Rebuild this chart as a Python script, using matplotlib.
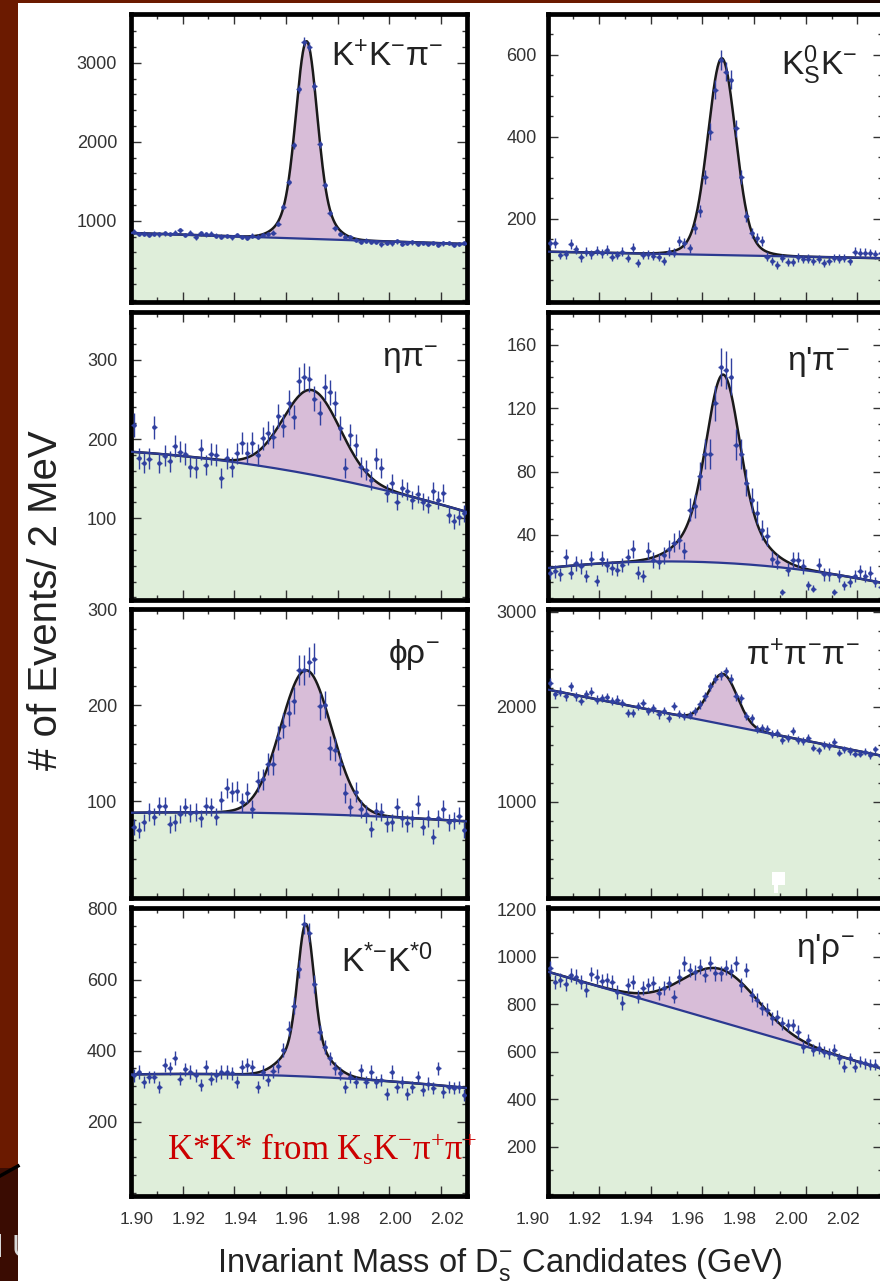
import numpy as np
import matplotlib
matplotlib.use("Agg")
import matplotlib.pyplot as plt
from matplotlib.patches import Rectangle
from matplotlib.lines import Line2D
from matplotlib.ticker import FixedLocator, MultipleLocator
from matplotlib.transforms import ScaledTranslation, Bbox

plt.rcParams["font.family"] = ["Liberation Sans", "DejaVu Sans"]
plt.rcParams["mathtext.default"] = "regular"

# 2 MeV bins, centres 1.901 ... 2.029 GeV
mass = np.round(1.901 + 0.002 * np.arange(65), 3)

counts_kkpi = [860, 830, 838, 820, 835, 826, 840, 832, 848, 880, 818, 850, 790, 840, 826, 835, 810, 798,
               806, 790, 822, 796, 784, 812, 798, 818, 830, 850, 960, 1177, 1494, 1958, 2663, 3266, 3203,
               2705, 1971, 1452, 1094, 904, 830, 800, 790, 760, 735, 748, 728, 735, 700, 722, 712, 738,
               705, 718, 726, 708, 720, 702, 715, 690, 712, 720, 696, 706, 718]
counts_ksk = [140, 142, 112, 114, 138, 126, 106, 120, 114, 122, 116, 124, 108, 112, 120, 104, 130, 92,
              112, 114, 110, 108, 98, 120, 118, 145, 141, 128, 177, 219, 303, 413, 515, 588, 559, 539,
              421, 303, 206, 165, 153, 145, 108, 98, 88, 104, 96, 95, 106, 102, 103, 98, 102, 92, 98,
              104, 103, 104, 98, 120, 118, 118, 116, 114, 118]
counts_etapi = [218, 176, 170, 175, 215, 170, 179, 172, 191, 184, 181, 165, 163, 187, 167, 181, 180, 151,
                176, 165, 182, 195, 183, 195, 180, 201, 208, 203, 229, 217, 246, 228, 274, 279, 276, 251,
                233, 266, 259, 245, 214, 163, 205, 193, 165, 161, 148, 175, 163, 132, 144, 121, 138, 134,
                123, 131, 121, 117, 134, 123, 132, 104, 96, 102, 106]
counts_etappi = [16, 17, 15, 26, 16, 22, 20, 14, 25, 11, 25, 21, 19, 18, 21, 26, 31, 16, 14, 30, 24, 23,
                 27, 31, 35, 37, 30, 56, 58, 77, 91, 91, 123, 146, 144, 140, 97, 91, 73, 62, 54, 43, 39,
                 25, 23, 4, 18, 24, 24, 20, 8, 6, 21, 15, 15, 4, 14, 8, 10, 14, 17, 14, 16, 10, 7]
counts_phirho = [73, 70, 78, 89, 84, 95, 95, 76, 78, 87, 94, 88, 89, 82, 95, 94, 84, 101, 114, 110, 111,
                 99, 109, 92, 121, 123, 139, 139, 166, 179, 192, 205, 237, 237, 245, 249, 199, 201, 156,
                 154, 139, 109, 94, 110, 92, 87, 71, 90, 89, 77, 78, 94, 82, 77, 82, 97, 73, 82, 63, 82,
                 92, 78, 80, 85, 70]
counts_3pi = [2250, 2128, 2156, 2110, 2215, 2110, 2058, 2128, 2156, 2075, 2092, 2100, 2058, 2075, 2040,
              1935, 1935, 2005, 2040, 1953, 1981, 1918, 1953, 1883, 2005, 1925, 1900, 1911, 1953, 2023,
              2110, 2215, 2296, 2331, 2373, 2296, 2110, 2086, 1900, 1876, 1760, 1771, 1760, 1715, 1725,
              1645, 1673, 1743, 1645, 1638, 1673, 1568, 1540, 1596, 1586, 1631, 1515, 1551, 1533, 1505,
              1505, 1526, 1491, 1551, 1480]
counts_kstkst = [331, 340, 312, 326, 326, 298, 359, 350, 379, 321, 348, 340, 331, 303, 354, 321, 331, 340,
                 340, 336, 312, 354, 359, 354, 298, 340, 317, 342, 357, 401, 462, 527, 631, 757, 733, 588,
                 452, 410, 378, 350, 336, 298, 326, 312, 345, 312, 340, 312, 317, 279, 340, 298, 312, 277,
                 298, 326, 289, 307, 295, 350, 284, 298, 295, 298, 275]
counts_etaprho = [951, 892, 902, 884, 923, 916, 892, 860, 926, 916, 898, 902, 892, 853, 804, 881, 892, 832,
                  867, 881, 888, 846, 867, 888, 832, 916, 972, 944, 934, 958, 923, 972, 930, 930, 954, 940,
                  972, 881, 944, 839, 818, 783, 776, 741, 747, 720, 712, 712, 684, 621, 649, 607, 614, 600,
                  593, 607, 572, 537, 572, 537, 558, 551, 544, 544, 533]

all_counts = [counts_kkpi, counts_ksk, counts_etapi, counts_etappi,
              counts_phirho, counts_3pi, counts_kstkst, counts_etaprho]

channel_labels = ["K$^{+}$K$^{{-}}$π$^{{-}}$", "K$^{0}_{S}$K$^{{-}}$", "ηπ$^{{-}}$", "η'π$^{{-}}$",
                  "ϕρ$^{{-}}$", "π$^{+}$π$^{{-}}$π$^{{-}}$", "K$^{*{-}}$K$^{*0}$", "η'ρ$^{{-}}$"]

y_major = [[1000, 2000, 3000], [200, 400, 600], [100, 200, 300], [40, 80, 120, 160],
           [100, 200, 300], [1000, 2000, 3000], [200, 400, 600, 800], [200, 400, 600, 800, 1000, 1200]]
y_minor = [200, 50, 20, 10, 20, 200, 50, 100]
y_limits = [(-25, 3613), (-2, 699), (-3, 361), (-1, 181), (-0.5, 300.5), (-10, 3026), (-9, 803.5), (-7, 1207)]

x_ticks = [1.90, 1.92, 1.94, 1.96, 1.98, 2.00, 2.02]

# fit results
fit_mean = [1.9680, 1.9675, 1.9700, 1.9680, 1.9678, 1.9680, 1.9677, 1.9670]
core_sigma = [0.0039, 0.0052, 0.0110, 0.0060, 0.0098, 0.0055, 0.0030, 0.0145]
core_amp = [2000, 440, 107, 85, 150, 530, 330, 222]
tail_sigma = [0.0075, 0.0100, 0.0100, 0.0120, 0.0100, 0.0100, 0.0080, 0.0100]
tail_amp = [500, 40, 0, 34, 0, 0, 100, 0]
# background level at 1.900, 1.965 and 2.030 GeV
bkg_levels = [(845, 775, 705), (120, 112, 104), (184, 158, 108), (19, 22.5, 9.5),
              (88, 87, 79), (2180, 1830, 1480), (333, 328, 295), (937, 732, 527)]

W, H = 880, 1281
col_left = [131, 547.5]
col_width = 335.7
row_top = [14.3, 311.7, 609.2, 907.5]
row_bottom = [301.7, 599.7, 897.5, 1195.8]
label_pos = [(0.929, 0.820), (0.922, 0.789), (0.915, 0.809), (0.901, 0.798),
             (0.920, 0.813), (0.931, 0.806), (0.900, 0.777), (0.916, 0.829)]

GREEN = "#dfeeda"
PURPLE = "#d8bdd8"
NAVY = "#2b3990"
DATA = "#3040a0"


def fit_curves(x, i):
    bk = np.polyval(np.polyfit([1.90, 1.965, 2.03], bkg_levels[i], 2), x)
    sig = core_amp[i] * np.exp(-0.5 * ((x - fit_mean[i]) / core_sigma[i]) ** 2)
    sig = sig + tail_amp[i] * np.exp(-0.5 * ((x - fit_mean[i]) / tail_sigma[i]) ** 2)
    return bk, bk + sig


def px_rect(fig, x0, y0, x1, y1, color, z):
    fig.add_artist(Rectangle((x0 / W, 1 - y1 / H), (x1 - x0) / W, (y1 - y0) / H,
                             transform=fig.transFigure, facecolor=color, edgecolor="none", zorder=z))


fig = plt.figure(figsize=(W / 100, H / 100), dpi=100)
fig.patch.set_facecolor("white")

# slide background peeking out on the left and top
px_rect(fig, 0, 0, 18, 1168, "#6b1a00", -5)
px_rect(fig, 0, 1168, 18, H, "#3a0c02", -5)
px_rect(fig, 0, 0, 760, 3, "#6b1a00", -5)
px_rect(fig, 760, 0, W, 3, "#1a0500", -5)
fig.add_artist(Line2D([0, 18 / W], [1 - 1176 / H, 1 - 1166 / H], transform=fig.transFigure,
                      color="black", lw=2.5, zorder=-4))
t = fig.text(-4 / W, 1 - 1257 / H, "l U", color="#d8d8d8", fontsize=23, zorder=-4)
t.set_clip_box(Bbox([[0, 0], [18, H]]))

xf = np.linspace(1.90, 2.03, 800)

for i, counts in enumerate(all_counts):
    row, col = divmod(i, 2)
    left = col_left[col] / W
    bottom = 1 - row_bottom[row] / H
    height = (row_bottom[row] - row_top[row]) / H
    ax = fig.add_axes([left, bottom, col_width / W, height])

    y0, y1 = y_limits[i]
    bk, tot = fit_curves(xf, i)
    ax.fill_between(xf, y0, bk, color=GREEN, lw=0, zorder=1)
    ax.fill_between(xf, bk, tot, color=PURPLE, lw=0, zorder=1)
    ax.plot(xf, tot, color="#1a1a1a", lw=1.8, zorder=2)
    ax.plot(xf, bk, color=NAVY, lw=1.6, zorder=3)

    c = np.array(counts, dtype=float)
    ax.errorbar(mass, c, yerr=np.sqrt(c), xerr=0.001, fmt="o", ms=2.2, color=DATA,
                elinewidth=1.0, capsize=0, zorder=4)

    ax.set_xlim(1.90, 2.03)
    ax.set_ylim(y0, y1)
    ax.xaxis.set_major_locator(FixedLocator(x_ticks))
    ax.xaxis.set_minor_locator(MultipleLocator(0.01))
    ax.yaxis.set_major_locator(FixedLocator(y_major[i]))
    ax.yaxis.set_minor_locator(MultipleLocator(y_minor[i]))
    ax.set_xticklabels(["%.2f" % v for v in x_ticks])

    for sp in ax.spines.values():
        sp.set_linewidth(3.4)
        sp.set_color("black")
    ax.tick_params(which="both", direction="in", top=True, right=True, color="#333333",
                   labelcolor="#333333", labelsize=13)
    ax.tick_params(which="major", length=7.2, width=1.0)
    ax.tick_params(which="minor", length=3.6, width=1.0)
    ax.tick_params(axis="y", pad=10 if col == 0 else 7.8)
    ax.tick_params(axis="x", pad=12, labelsize=12.5, labelbottom=(row == 3))

    if row == 3:
        dx = 6 if col == 0 else -14.5
        shift = ScaledTranslation(dx / 100, 0, fig.dpi_scale_trans)
        for lab in ax.get_xticklabels():
            lab.set_transform(lab.get_transform() + shift)

    lx, ly = label_pos[i]
    ax.text(lx, ly, channel_labels[i], transform=ax.transAxes, ha="right", va="baseline",
            fontsize=24, color="#222222", zorder=6)

fig.text(46 / W, 1 - 600 / H, "# of Events/ 2 MeV", rotation=90, ha="center", va="center",
         fontsize=29, color="#222222")
fig.text(500 / W, 1 - 1272 / H, "Invariant Mass of D$^{{-}}_{s}$ Candidates (GeV)", ha="center",
         va="baseline", fontsize=23.5, color="#222222")
fig.text(167 / W, 1 - 1160 / H, "K*K* from K$_{s}$K$^{{-}}$π$^{+}$π$^{+}$", ha="left", va="baseline",
         fontsize=25, color="#cc0000", family="Liberation Serif", zorder=10)

# small white blot on the 3-pion panel
px_rect(fig, 772, 872, 785, 885, "white", 8)
px_rect(fig, 774, 885, 778, 893, "white", 8)

fig.savefig("out.png", dpi=100)
